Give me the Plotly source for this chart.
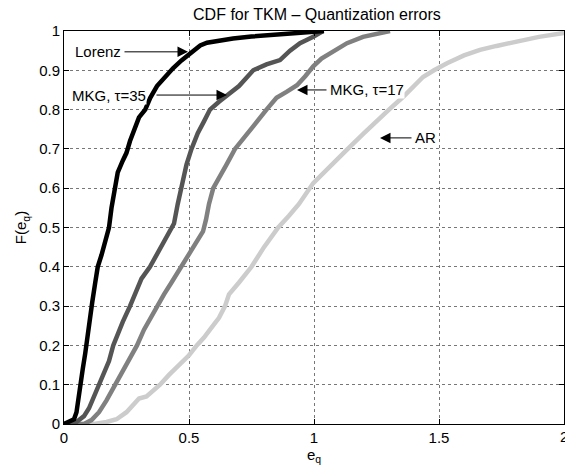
import plotly.graph_objects as go

# Lorenz
lor_x = [0.0, 0.02, 0.04, 0.05, 0.058, 0.066, 0.075, 0.085, 0.095, 0.105, 0.113, 0.125, 0.135, 0.15, 0.165, 0.18, 0.19, 0.204, 0.215, 0.235, 0.25, 0.264, 0.28, 0.30, 0.325, 0.345, 0.372, 0.40, 0.436, 0.47, 0.516, 0.545, 0.572, 0.62, 0.676, 0.75, 0.85, 0.94, 1.04]
lor_y = [0.0, 0.005, 0.012, 0.03, 0.06, 0.1, 0.14, 0.18, 0.22, 0.27, 0.31, 0.36, 0.40, 0.43, 0.47, 0.50, 0.55, 0.60, 0.64, 0.67, 0.69, 0.72, 0.75, 0.78, 0.80, 0.83, 0.86, 0.88, 0.905, 0.925, 0.95, 0.963, 0.97, 0.976, 0.981, 0.986, 0.991, 0.996, 1.0]
# MKG tau=35
m35_x = [0.0, 0.04, 0.06, 0.08, 0.10, 0.12, 0.137, 0.16, 0.18, 0.197, 0.215, 0.235, 0.264, 0.285, 0.31, 0.344, 0.37, 0.40, 0.425, 0.44, 0.455, 0.468, 0.49, 0.51, 0.535, 0.56, 0.584, 0.62, 0.65, 0.70, 0.757, 0.81, 0.864, 0.904, 0.944, 0.997, 1.036]
m35_y = [0.0, 0.0, 0.01, 0.02, 0.04, 0.07, 0.10, 0.13, 0.16, 0.20, 0.23, 0.26, 0.30, 0.33, 0.37, 0.40, 0.43, 0.46, 0.49, 0.51, 0.56, 0.60, 0.66, 0.70, 0.74, 0.77, 0.80, 0.82, 0.835, 0.86, 0.90, 0.915, 0.926, 0.95, 0.969, 0.985, 1.0]
# MKG tau=17
m17_x = [0.0, 0.08, 0.11, 0.14, 0.17, 0.204, 0.24, 0.265, 0.292, 0.32, 0.345, 0.372, 0.40, 0.43, 0.47, 0.50, 0.53, 0.556, 0.568, 0.58, 0.597, 0.625, 0.65, 0.684, 0.72, 0.76, 0.81, 0.85, 0.89, 0.932, 0.965, 0.997, 1.03, 1.064, 1.132, 1.196, 1.25, 1.304]
m17_y = [0.0, 0.0, 0.01, 0.03, 0.06, 0.10, 0.14, 0.17, 0.20, 0.24, 0.27, 0.30, 0.33, 0.36, 0.40, 0.43, 0.46, 0.49, 0.52, 0.56, 0.60, 0.63, 0.66, 0.70, 0.73, 0.76, 0.80, 0.83, 0.845, 0.862, 0.885, 0.91, 0.93, 0.944, 0.969, 0.985, 0.993, 1.0]
# AR
ar_x = [0.0, 0.12, 0.17, 0.21, 0.25, 0.28, 0.30, 0.33, 0.36, 0.384, 0.42, 0.46, 0.50, 0.531, 0.56, 0.59, 0.62, 0.644, 0.66, 0.70, 0.75, 0.80, 0.83, 0.857, 0.90, 0.94, 0.997, 1.05, 1.13, 1.20, 1.264, 1.30, 1.356, 1.40, 1.436, 1.48, 1.532, 1.60, 1.664, 1.73, 1.796, 1.90, 2.0]
ar_y = [0.0, 0.0, 0.005, 0.012, 0.03, 0.05, 0.065, 0.07, 0.085, 0.10, 0.125, 0.15, 0.175, 0.20, 0.22, 0.245, 0.27, 0.30, 0.33, 0.36, 0.40, 0.45, 0.475, 0.50, 0.53, 0.56, 0.613, 0.645, 0.697, 0.74, 0.781, 0.80, 0.832, 0.86, 0.883, 0.90, 0.918, 0.938, 0.952, 0.962, 0.972, 0.985, 0.995]

x_ticks = [0, 0.5, 1, 1.5]
x_tick_text = ["0", "0.5", "1", "1.5"]
x_last_tick = 2
x_last_text = "2"
y_ticks = [0, 0.1, 0.2, 0.3, 0.4, 0.5, 0.6, 0.7, 0.8, 0.9, 1]
y_tick_text = ["0", "0.1", "0.2", "0.3", "0.4", "0.5", "0.6", "0.7", "0.8", "0.9", "1"]

FONT = "Liberation Sans, Arial, sans-serif"
FS = 15

fig = go.Figure()
fig.add_trace(go.Scatter(x=ar_x, y=ar_y, mode="lines", line=dict(color="#cccccc", width=4.5), name="AR"))
fig.add_trace(go.Scatter(x=m17_x, y=m17_y, mode="lines", line=dict(color="#808080", width=4.5), name="MKG17"))
fig.add_trace(go.Scatter(x=m35_x, y=m35_y, mode="lines", line=dict(color="#555555", width=4.5), name="MKG35"))
fig.add_trace(go.Scatter(x=lor_x, y=lor_y, mode="lines", line=dict(color="#000000", width=4.5), name="Lorenz"))

# arrows (head, tail)
arrows = [
    (0.496, 0.947, 0.236, 0.947),
    (0.652, 0.837, 0.364, 0.837),
    (0.932, 0.85, 1.056, 0.85),
    (1.264, 0.728, 1.396, 0.728),
]
for hx, hy, tx, ty in arrows:
    fig.add_annotation(x=hx, y=hy, ax=tx, ay=ty, axref="x", ayref="y", xref="x", yref="y",
                       text="", showarrow=True, arrowhead=2, arrowsize=2.1, arrowwidth=1, arrowcolor="black")

labels = [
    ("Lorenz", 0.232, 0.947, "right", None),
    ("MKG, τ=35", 0.33, 0.837, "right", "white"),
    ("MKG, τ=17", 1.06, 0.85, "left", "white"),
    ("AR", 1.40, 0.728, "left", None),
]
for txt, x, y, anc, bg in labels:
    fig.add_annotation(x=x, y=y, xref="x", yref="y", text=txt, showarrow=False, xanchor=anc, yanchor="middle",
                       font=dict(family=FONT, size=FS, color="black"), bgcolor=bg, borderpad=0)

# last x tick label (partially clipped at the page edge, as in the reference)
fig.add_annotation(x=x_last_tick, y=0, xref="x", yref="paper", text=x_last_text, showarrow=False,
                   xanchor="center", yanchor="top", yshift=-2, font=dict(family=FONT, size=FS, color="black"))

fig.update_layout(
    width=565, height=473,
    margin=dict(l=64, r=1, t=31, b=49),
    paper_bgcolor="white", plot_bgcolor="white",
    showlegend=False,
    title=dict(text="CDF for TKM – Quantization errors", x=0.561, xanchor="center", y=0.970, yanchor="middle",
               font=dict(family=FONT, size=16, color="black")),
    font=dict(family=FONT, size=FS, color="black"),
)
fig.update_xaxes(range=[0, 2], tickvals=x_ticks + [x_last_tick], ticktext=x_tick_text + [""], showgrid=True,
                 gridcolor="#777777", griddash="dot", gridwidth=1, zeroline=False, showline=True,
                 linecolor="black", linewidth=1, mirror="ticks", ticks="inside", ticklen=5, tickcolor="black",
                 tickfont=dict(family=FONT, size=FS),
                 title=dict(text="e<sub>q</sub>", font=dict(family=FONT, size=FS), standoff=2))
fig.update_yaxes(range=[0, 1], tickvals=y_ticks, ticktext=y_tick_text, showgrid=True, gridcolor="#777777",
                 griddash="dot", gridwidth=1, zeroline=False, showline=True, linecolor="black", linewidth=1,
                 mirror="ticks", ticks="inside", ticklen=5, tickcolor="black",
                 tickfont=dict(family=FONT, size=FS),
                 title=dict(text="F(e<sub>q</sub>)", font=dict(family=FONT, size=FS), standoff=8))

fig.write_html("out.html")
